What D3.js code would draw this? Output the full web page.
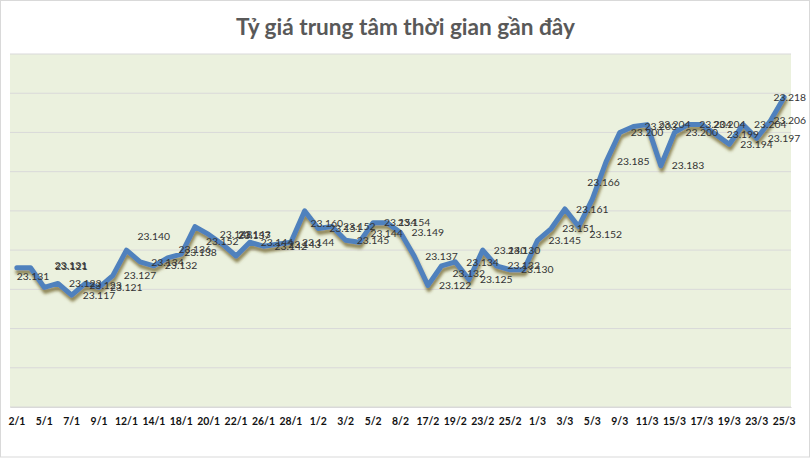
<!DOCTYPE html>
<html><head><meta charset="utf-8">
<script src="https://cdn.jsdelivr.net/npm/d3@7"></script>
<style>body{margin:0;background:#fff}</style>
</head><body>
<svg id="c" width="811" height="458"></svg>
<script>
// ---- data ----
const title = "Tỷ giá trung tâm thời gian gần đây";
const dates = ["2/1","4/1","5/1","6/1","7/1","8/1","9/1","11/1","12/1","13/1","14/1","15/1","18/1","19/1","20/1","21/1","22/1","25/1","26/1","27/1","28/1","29/1","1/2","2/2","3/2","4/2","5/2","6/2","8/2","9/2","17/2","18/2","19/2","22/2","23/2","24/2","25/2","26/2","1/3","2/3","3/3","4/3","5/3","8/3","9/3","10/3","11/3","12/3","15/3","16/3","17/3","18/3","19/3","22/3","23/3","24/3","25/3"];
const rates = [23.131,23.131,23.121,23.123,23.117,23.123,23.121,23.127,23.140,23.134,
               23.132,23.136,23.138,23.152,23.148,23.143,23.137,23.144,23.142,23.143,
               23.144,23.160,23.151,23.152,23.145,23.144,23.154,23.154,23.149,23.137,
               23.122,23.132,23.134,23.125,23.140,23.132,23.130,23.130,23.145,23.151,
               23.161,23.152,23.166,23.185,23.200,23.203,23.204,23.183,23.200,23.204,
               23.204,23.199,23.194,23.204,23.197,23.206,23.218];
const yDomain = [23.06, 23.24];
const yStep = 0.02;
// labels placed "right" of each point; a few were moved in the original
const labelNudge = {0:[-11,9],1:[13,-2],2:[0,-21],5:[-7,2],8:[0,-14],11:[0,-9],12:[-8,-2],
  13:[0,15],15:[5,-10],16:[-9,-21],21:[-5,12],25:[0,-9],31:[0,8],37:[-27,-19],41:[0,8],42:[-16,-17]};

// ---- layout ----
const W = 811, H = 458;
const plot = {l:10, r:791, t:54, b:407};
const svg = d3.select("#c");
const FONT = "Lato, 'Open Sans', 'Liberation Sans', sans-serif";

function fit(text, weight, target){
  const t = svg.append("text").attr("font-family",FONT).attr("font-weight",weight)
    .attr("font-size",100).text(text);
  const w = t.node().getComputedTextLength(); t.remove();
  return 100*target/w;
}
const titleSize = fit(title,"bold",339);
const labelSize = fit("23.131","normal",32.5);
const tickSize = fit("25/3","bold",23);

const defs = svg.append("defs");
const f = defs.append("filter").attr("id","sh").attr("x","-5%").attr("y","-30%").attr("width","110%").attr("height","160%");
f.append("feGaussianBlur").attr("in","SourceAlpha").attr("stdDeviation",1.7);
f.append("feOffset").attr("dx",1).attr("dy",4).attr("result","o");
f.append("feFlood").attr("flood-color","#6a5c22").attr("flood-opacity",0.7);
f.append("feComposite").attr("in2","o").attr("operator","in");
const m = f.append("feMerge"); m.append("feMergeNode"); m.append("feMergeNode").attr("in","SourceGraphic");

svg.append("rect").attr("x",0.5).attr("y",0.5).attr("width",809).attr("height",456.5)
  .attr("fill","#fff").attr("stroke","#d9d9d9");
svg.append("rect").attr("x",plot.l).attr("y",plot.t).attr("width",plot.r-plot.l).attr("height",plot.b-plot.t)
  .attr("fill","#ebf1de");

const x = d3.scaleBand().domain(d3.range(dates.length)).range([plot.l, plot.r]);
const cx = i => x(i) + x.bandwidth()/2;
const y = d3.scaleLinear().domain(yDomain).range([plot.b, plot.t]);

const gridVals = d3.range(Math.round((yDomain[1]-yDomain[0])/yStep)+1).map(k => yDomain[0]+k*yStep);
svg.append("g").selectAll("line").data(gridVals).join("line")
  .attr("x1",plot.l).attr("x2",plot.r).attr("y1",d=>y(d)).attr("y2",d=>y(d))
  .attr("stroke","#d9d9d9").attr("stroke-width",1);

// x axis
const ax = svg.append("g").attr("transform",`translate(0,${plot.b})`)
  .call(d3.axisBottom(x).tickValues(d3.range(0,dates.length,2)).tickSize(0).tickPadding(11)
    .tickFormat(i=>dates[i]));
ax.select(".domain").attr("stroke","#d9d9d9");
ax.selectAll("text").attr("font-family",FONT).attr("font-weight","bold")
  .attr("font-size",tickSize).attr("fill","#111");

// line
const line = d3.line().x((d,i)=>cx(i)).y(d=>y(d));
svg.append("path").datum(rates).attr("d",line).attr("fill","none")
  .attr("stroke","#4f81bd").attr("stroke-width",5).attr("stroke-linejoin","round")
  .attr("stroke-linecap","round").attr("filter","url(#sh)");

// data labels
const lg = svg.append("g").attr("font-family",FONT).attr("font-size",labelSize).attr("fill","#333");
rates.forEach((v,i)=>{
  const n = labelNudge[i] || [0,0];
  const t = lg.append("text").attr("dy","0.35em").text(v.toFixed(3));
  let lx = cx(i) + 11 + n[0];
  const w = t.node().getComputedTextLength();
  if (lx + w > 806) lx = 806 - w;
  t.attr("x",lx).attr("y",y(v)+n[1]);
});

// title
svg.append("text").attr("x",405.5).attr("y",35).attr("text-anchor","middle")
  .attr("font-family",FONT).attr("font-weight","bold").attr("font-size",titleSize)
  .attr("fill","#595959").text(title);
</script>
</body></html>
